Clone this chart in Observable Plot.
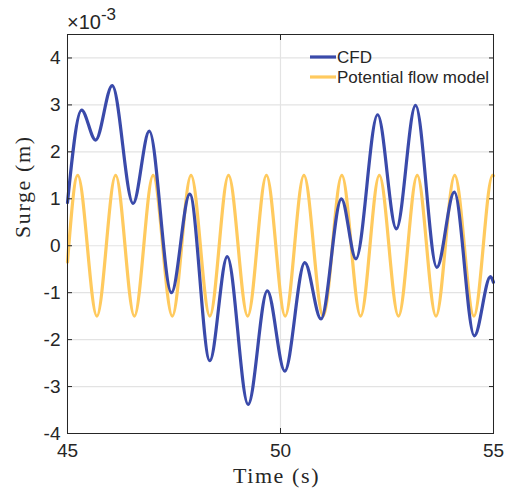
<!DOCTYPE html>
<html>
<head>
<meta charset="utf-8">
<script src="https://cdn.jsdelivr.net/npm/d3@7"></script>
<script src="https://cdn.jsdelivr.net/npm/@observablehq/plot@0.6"></script>
<style>
  html, body { margin: 0; padding: 0; background: #fff; }
  #wrap { position: relative; width: 509px; height: 495px; }
  #overlay { position: absolute; left: 0; top: 0; pointer-events: none; }
</style>
</head>
<body>
<div id="wrap"></div>
<script>
// Time axis (s) and surge values in units of 1e-3 m
const cfdTime  = [45.00, 45.33, 45.66, 46.05, 46.54, 46.92, 47.44, 47.87, 48.34, 48.75, 49.24, 49.69, 50.10, 50.57, 50.95, 51.43, 51.77, 52.28, 52.72, 53.17, 53.67, 54.08, 54.55, 54.93, 55.00];
const cfdSurge = [0.92, 2.89, 2.25, 3.41, 0.90, 2.44, -1.00, 1.10, -2.45, -0.23, -3.38, -0.96, -2.67, -0.36, -1.56, 1.00, -0.28, 2.79, 0.36, 2.99, -0.46, 1.14, -1.92, -0.66, -0.78];

const potTime  = [45.00, 45.24, 45.69, 46.13, 46.57, 47.01, 47.46, 47.90, 48.34, 48.78, 49.23, 49.67, 50.11, 50.55, 51.00, 51.44, 51.88, 52.32, 52.77, 53.21, 53.65, 54.09, 54.54, 54.98, 55.00];
const potSurge = [-0.35, 1.50, -1.50, 1.50, -1.50, 1.50, -1.50, 1.50, -1.50, 1.50, -1.50, 1.50, -1.50, 1.50, -1.50, 1.50, -1.50, 1.50, -1.50, 1.50, -1.50, 1.50, -1.50, 1.50, 1.49];

const seriesNames = ["CFD", "Potential flow model"];
const seriesColors = ["#3A4AAA", "#FFCA5E"];
const xTicks = [45, 50, 55];
const yTicks = [-4, -3, -2, -1, 0, 1, 2, 3, 4];
const xLabel = "Time (s)";
const yLabel = "Surge (m)";
const exponentBase = "×10";
const exponentPower = "-3";

const cfd = cfdTime.map((t, i) => ({t, v: cfdSurge[i]}));
const pot = potTime.map((t, i) => ({t, v: potSurge[i]}));

const axisColor = "#262626";
const serif = "'Liberation Serif', 'Times New Roman', serif";
const sans = "'Liberation Sans', Arial, Helvetica, sans-serif";

const chart = Plot.plot({
  width: 509,
  height: 495,
  marginLeft: 67,
  marginRight: 16,
  marginTop: 34,
  marginBottom: 62,
  x: {domain: [45, 55]},
  y: {domain: [-4, 4.5]},
  style: {fontFamily: sans, fontSize: "19px", color: axisColor, background: "white", overflow: "visible"},
  marks: [
    Plot.gridY(yTicks, {stroke: "#e3e3e3", strokeOpacity: 1, strokeWidth: 1.2}),
    Plot.gridX(xTicks, {stroke: "#e3e3e3", strokeOpacity: 1, strokeWidth: 1.2}),
    Plot.line(pot, {x: "t", y: "v", curve: "monotone-x", stroke: seriesColors[1], strokeWidth: 3.2}),
    Plot.line(cfd, {x: "t", y: "v", curve: "monotone-x", stroke: seriesColors[0], strokeWidth: 3.2}),
    Plot.axisY(yTicks, {anchor: "left", tickSize: -5, tickPadding: 12, tickFormat: d => String(d), label: null, stroke: axisColor, fontSize: 19}),
    Plot.axisY(yTicks, {anchor: "right", tickSize: -5, tickFormat: () => "", label: null, stroke: axisColor}),
    Plot.axisX(xTicks, {anchor: "bottom", tickSize: -5, tickPadding: 15, tickFormat: d => String(d), label: null, stroke: axisColor, fontSize: 19}),
    Plot.axisX(xTicks, {anchor: "top", tickSize: -5, tickFormat: () => "", label: null, stroke: axisColor}),
    Plot.frame({stroke: axisColor, strokeWidth: 1}),
    Plot.text([xLabel], {frameAnchor: "bottom", dy: 49, fontFamily: serif, fontSize: 22, fill: axisColor, lineAnchor: "bottom", dx: -4}),
    Plot.text([yLabel], {frameAnchor: "left", rotate: -90, dx: -45, dy: 4, fontFamily: serif, fontSize: 22, fill: axisColor, lineAnchor: "middle"})
  ]
});

// letter spacing on serif axis labels
chart.querySelectorAll("text").forEach(t => {
  if (t.textContent === xLabel || t.textContent === yLabel) t.setAttribute("letter-spacing", "1.6");
});

const wrap = document.getElementById("wrap");
wrap.appendChild(chart);

// overlay: legend and exponent label
const ns = "http://www.w3.org/2000/svg";
const ov = document.createElementNS(ns, "svg");
ov.setAttribute("id", "overlay");
ov.setAttribute("width", 509);
ov.setAttribute("height", 495);

function txt(x, y, s, size, fam) {
  const e = document.createElementNS(ns, "text");
  e.setAttribute("x", x); e.setAttribute("y", y);
  e.setAttribute("font-size", size); e.setAttribute("font-family", fam);
  e.setAttribute("fill", axisColor);
  e.textContent = s;
  ov.appendChild(e);
  return e;
}
// exponent
const ex = txt(67, 29, "", 20, sans);
const ts1 = document.createElementNS(ns, "tspan"); ts1.textContent = exponentBase; ex.appendChild(ts1);
const ts2 = document.createElementNS(ns, "tspan"); ts2.textContent = exponentPower; ts2.setAttribute("dy", -9); ts2.setAttribute("font-size", 17); ex.appendChild(ts2);

// legend
seriesNames.forEach((name, i) => {
  const y = 57 + i * 20;
  const l = document.createElementNS(ns, "line");
  l.setAttribute("x1", 310); l.setAttribute("x2", 336);
  l.setAttribute("y1", y); l.setAttribute("y2", y);
  l.setAttribute("stroke", seriesColors[i]); l.setAttribute("stroke-width", 3.2);
  ov.appendChild(l);
  txt(337, y + 6, name, 17, sans);
});
wrap.appendChild(ov);
</script>
</body>
</html>
